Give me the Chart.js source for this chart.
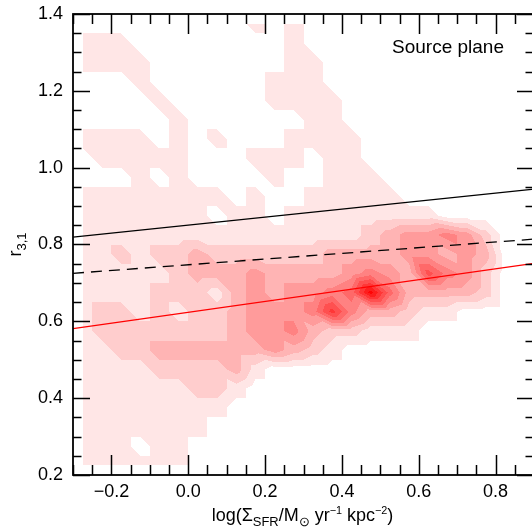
<!DOCTYPE html>
<html lang="en">
<head>
<meta charset="UTF-8">
<title>r31 against SFR surface density</title>
<script src="https://cdn.jsdelivr.net/npm/chart.js@4.4.1/dist/chart.umd.min.js"></script>
<style>
  html, body { margin: 0; padding: 0; background: #fff; overflow: hidden; }
  #wrap { width: 540px; height: 529px; }
</style>
</head>
<body>
<div id="wrap"><canvas id="chart" width="540" height="529"></canvas></div>
<script>
// axes
const xRange = [-0.3, 0.9];
const yRange = [0.2, 1.4];
const xTicks = [-0.2, 0.0, 0.2, 0.4, 0.6, 0.8];
const yTicks = [0.2, 0.4, 0.6, 0.8, 1.0, 1.2, 1.4];
const minorStep = 0.05;

// fitted relations, value at the left and right edge of the plot
const lineX = [-0.3, 0.9];
const upperFit = [0.819, 0.944];
const dashedFit = [0.725, 0.814];
const redFit = [0.581, 0.751];

// density map: node positions and contour level at each node (hex digit)
const gridX = [-0.275, -0.225, -0.175, -0.125, -0.075, -0.025, 0.025, 0.075, 0.125, 0.175, 0.225, 0.275,
               0.325, 0.375, 0.425, 0.475, 0.525, 0.575, 0.625, 0.675, 0.725, 0.775, 0.825, 0.875];
const gridY = [1.375, 1.325, 1.275, 1.225, 1.175, 1.125, 1.075, 1.025, 0.975, 0.925, 0.875, 0.825,
               0.775, 0.725, 0.675, 0.625, 0.575, 0.525, 0.475, 0.425, 0.375, 0.325, 0.275, 0.225];
const density = [
  "000000000101000000000000",
  "111000000001000000000000",
  "111100000001100000000000",
  "000100000011100000000000",
  "000010000011110000000000",
  "000001000000110000000000",
  "111101010001111000000000",
  "011111000111011000000000",
  "000101000010011100000000",
  "111111110100111110000000",
  "111111101101111111100000",
  "111111111111111234454200",
  "112122322222233334434300",
  "111112333433334543754200",
  "111122213434456a63333200",
  "122121223444585332110000",
  "122222223445322111000000",
  "112233333343210000000000",
  "111122223100000000000000",
  "111111221000000000000000",
  "111111110000000000000000",
  "111111100000000000000000",
  "111011000000000000000000",
  "111111000000000000000000"
];

const FONT = '"Liberation Sans", Arial, Helvetica, sans-serif';

function levelColor(k) {
  const g = 255 - 25 * k;
  return 'rgb(255,' + g + ',' + g + ')';
}

function findCell(arr, v) {
  // arr is monotonic; returns [index, fraction]
  for (let i = 0; i < arr.length - 1; i++) {
    const a = arr[i], b = arr[i + 1];
    if ((v - a) * (v - b) <= 0) return [i, (v - a) / (b - a)];
  }
  return null;
}

// linear interpolation on the two triangles of a grid cell
function cellValue(vals, i, j, tx, ty) {
  const v00 = vals[j][i], v10 = vals[j][i + 1], v01 = vals[j + 1][i], v11 = vals[j + 1][i + 1];
  if (tx >= ty) return v00 + tx * (v10 - v00) + ty * (v11 - v10);
  return v00 + ty * (v01 - v00) + tx * (v11 - v01);
}

const contourPlugin = {
  id: 'contour',
  beforeDatasetsDraw(chart) {
    const { ctx, scales: { x, y } } = chart;
    const vals = density.map(r => r.split('').map(c => parseInt(c, 16)));
    const pxA = Math.round(x.getPixelForValue(gridX[0]));
    const pxB = Math.round(x.getPixelForValue(gridX[gridX.length - 1]));
    const pyA = Math.round(y.getPixelForValue(gridY[0]));
    const pyB = Math.round(y.getPixelForValue(gridY[gridY.length - 1]));
    const cols = [];
    for (let px = pxA; px < pxB; px++) cols.push(findCell(gridX, x.getValueForPixel(px + 0.5)));
    ctx.save();
    for (let py = pyA; py < pyB; py++) {
      const cy = findCell(gridY, y.getValueForPixel(py + 0.5));
      if (!cy) continue;
      const [j, ty] = cy;
      let runStart = pxA, runLevel = -1;
      const flush = (end) => {
        if (runLevel > 0) {
          ctx.fillStyle = levelColor(runLevel);
          ctx.fillRect(runStart, py, end - runStart, 1);
        }
      };
      for (let k = 0; k < cols.length; k++) {
        const px = pxA + k;
        let lev = 0;
        if (cols[k]) {
          const [i, tx] = cols[k];
          lev = Math.round(cellValue(vals, i, j, tx, ty));
        }
        if (lev !== runLevel) {
          flush(px);
          runStart = px;
          runLevel = lev;
        }
      }
      flush(pxB);
    }
    ctx.restore();
  }
};

function drawRich(ctx, parts, x, y, size) {
  // parts: [text, kind] with kind n / sub / sup
  const spec = { n: [size, 0], sub: [size * 0.72, size * 0.25], sup: [size * 0.6, -size * 0.38] };
  let w = 0;
  parts.forEach(([t, k]) => { ctx.font = spec[k][0] + 'px ' + FONT; w += ctx.measureText(t).width; });
  let cx = x - w / 2;
  ctx.textAlign = 'left';
  ctx.textBaseline = 'alphabetic';
  parts.forEach(([t, k]) => {
    ctx.font = spec[k][0] + 'px ' + FONT;
    ctx.fillText(t, cx, y + spec[k][1]);
    cx += ctx.measureText(t).width;
  });
}

const framePlugin = {
  id: 'frame',
  afterDatasetsDraw(chart) {
    const { ctx, chartArea: a, scales: { x, y } } = chart;
    ctx.save();
    ctx.strokeStyle = '#000';
    ctx.fillStyle = '#000';
    ctx.lineWidth = 1.8;
    ctx.strokeRect(a.left, a.top, a.right - a.left, a.bottom - a.top);

    ctx.lineWidth = 1.5;
    const isMajor = (v, list) => list.some(t => Math.abs(t - v) < 1e-6);
    const nX = Math.round((xRange[1] - xRange[0]) / minorStep);
    for (let k = 0; k <= nX; k++) {
      const v = xRange[0] + k * minorStep;
      const px = Math.round(x.getPixelForValue(v)) + 0.5;
      const len = isMajor(v, xTicks) ? 20 : 10;
      ctx.beginPath();
      ctx.moveTo(px, a.bottom); ctx.lineTo(px, a.bottom - len);
      ctx.moveTo(px, a.top); ctx.lineTo(px, a.top + len);
      ctx.stroke();
    }
    const nY = Math.round((yRange[1] - yRange[0]) / minorStep);
    for (let k = 0; k <= nY; k++) {
      const v = yRange[0] + k * minorStep;
      const py = Math.round(y.getPixelForValue(v)) + 0.5;
      const len = isMajor(v, yTicks) ? 17 : 8.5;
      ctx.beginPath();
      ctx.moveTo(a.left, py); ctx.lineTo(a.left + len, py);
      ctx.moveTo(a.right, py); ctx.lineTo(a.right - len, py);
      ctx.stroke();
    }

    ctx.font = '18px ' + FONT;
    ctx.textAlign = 'center';
    ctx.textBaseline = 'alphabetic';
    xTicks.forEach(v => {
      const s = v.toFixed(1).replace('-', '\u2212');
      ctx.fillText(s, x.getPixelForValue(v), a.bottom + 22);
    });
    ctx.textAlign = 'right';
    ctx.textBaseline = 'middle';
    yTicks.forEach(v => ctx.fillText(v.toFixed(1), a.left - 10, y.getPixelForValue(v)));

    // axis titles
    drawRich(ctx, [['log(\u03A3', 'n'], ['SFR', 'sub'], ['/M', 'n'], ['\u2299', 'sub'], [' yr', 'n'],
                   ['\u22121', 'sup'], [' kpc', 'n'], ['\u22122', 'sup'], [')', 'n']],
             (a.left + 532) / 2, a.bottom + 46, 18);
    ctx.save();
    ctx.translate(21, (a.top + a.bottom) / 2);
    ctx.rotate(-Math.PI / 2);
    drawRich(ctx, [['r', 'n'], ['3,1', 'sub']], 0, 0, 18);
    ctx.restore();

    ctx.font = '19px ' + FONT;
    ctx.textAlign = 'left';
    ctx.textBaseline = 'alphabetic';
    ctx.fillText('Source plane', 392, 53);
    ctx.restore();
  }
};

const pts = ys => lineX.map((v, i) => ({ x: v, y: ys[i] }));

new Chart(document.getElementById('chart'), {
  type: 'scatter',
  data: {
    datasets: [
      { data: pts(upperFit), borderColor: '#000', borderWidth: 1.3, showLine: true, pointRadius: 0 },
      { data: pts(dashedFit), borderColor: '#000', borderWidth: 1.3, borderDash: [11, 7], showLine: true, pointRadius: 0 },
      { data: pts(redFit), borderColor: '#ff0000', borderWidth: 1.3, showLine: true, pointRadius: 0 }
    ]
  },
  options: {
    responsive: false,
    animation: false,
    devicePixelRatio: 1,
    layout: { padding: { left: 73, top: 14, right: 6, bottom: 54 } },
    scales: {
      x: { type: 'linear', min: xRange[0], max: xRange[1], display: false },
      y: { type: 'linear', min: yRange[0], max: yRange[1], display: false }
    },
    plugins: { legend: { display: false }, tooltip: { enabled: false } }
  },
  plugins: [contourPlugin, framePlugin]
});
</script>
</body>
</html>
